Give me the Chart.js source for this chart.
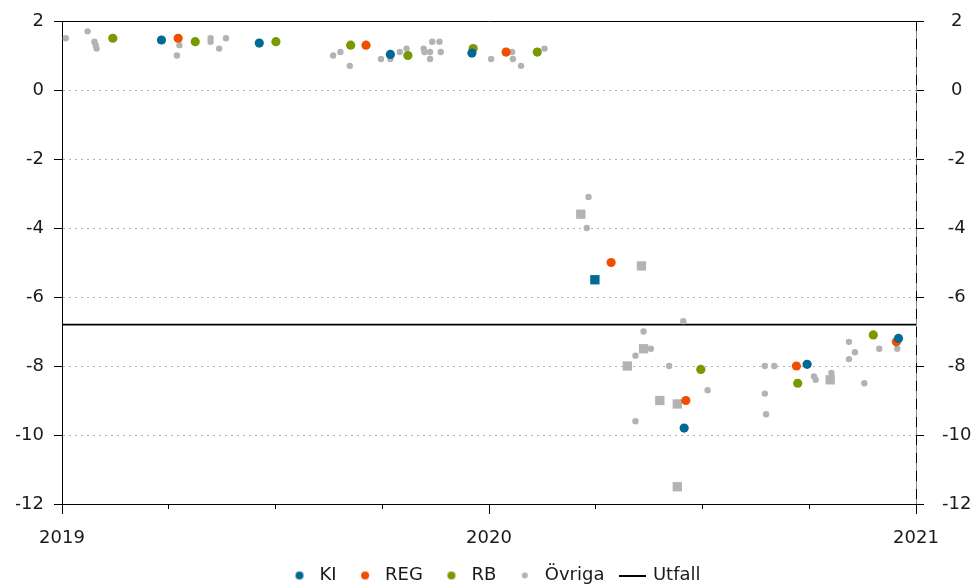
<!DOCTYPE html>
<html>
<head>
<meta charset="utf-8">
<script src="https://cdn.jsdelivr.net/npm/chart.js@4.4.1/dist/chart.umd.min.js"></script>
<style>
  html, body { margin: 0; padding: 0; background: #fff; overflow: hidden; }
</style>
</head>
<body>
<canvas id="chart" width="973" height="585"></canvas>
<script>
// forecast time (decimal year) and forecast value (percent)
const kiTime = [2019.233, 2019.462, 2019.769, 2019.960, 2020.457, 2020.745, 2020.959];
const kiValue = [1.45, 1.36, 1.03, 1.07, -9.8, -7.95, -7.2];
const kiSquareTime = [2020.248];
const kiSquareValue = [-5.5];

const regTime = [2019.272, 2019.712, 2020.040, 2020.286, 2020.461, 2020.720, 2020.954];
const regValue = [1.5, 1.3, 1.1, -5.0, -9.0, -8.0, -7.3];

const rbTime = [2019.119, 2019.312, 2019.501, 2019.676, 2019.810, 2019.963, 2020.113, 2020.496, 2020.723, 2020.900];
const rbValue = [1.5, 1.4, 1.4, 1.3, 1.0, 1.2, 1.1, -8.1, -8.5, -7.1];

const otherTime = [
  2019.009, 2019.060, 2019.076, 2019.079, 2019.081, 2019.275, 2019.269, 2019.348, 2019.348, 2019.384,
  2019.368, 2019.635, 2019.652, 2019.674, 2019.747, 2019.769, 2019.791, 2019.807, 2019.847, 2019.849,
  2019.862, 2019.862, 2019.867, 2019.884, 2019.887, 2020.005, 2020.054, 2020.056, 2020.075, 2020.130,
  2020.233, 2020.229, 2020.455, 2020.362, 2020.379, 2020.343, 2020.422, 2020.512, 2020.343, 2020.646,
  2020.668, 2020.646, 2020.649, 2020.761, 2020.765, 2020.802, 2020.843, 2020.857, 2020.843, 2020.879,
  2020.914, 2020.956
];
const otherValue = [
  1.5, 1.7, 1.4, 1.3, 1.2, 1.3, 1.0, 1.5, 1.4, 1.5,
  1.2, 1.0, 1.1, 0.7, 0.9, 0.9, 1.1, 1.2, 1.2, 1.1,
  1.1, 0.9, 1.4, 1.4, 1.1, 0.9, 1.1, 0.9, 0.7, 1.2,
  -3.1, -4.0, -6.7, -7.0, -7.5, -7.7, -8.0, -8.7, -9.6, -8.0,
  -8.0, -8.8, -9.4, -8.3, -8.4, -8.2, -7.3, -7.6, -7.8, -8.5,
  -7.5, -7.5
];
const otherSquareTime = [2020.215, 2020.357, 2020.362, 2020.324, 2020.400, 2020.441, 2020.441, 2020.799];
const otherSquareValue = [-3.6, -5.1, -7.5, -8.0, -9.0, -9.1, -11.5, -8.4];

const outcome = -6.8;
const years = [2019, 2020, 2021];
const yTicks = [-12, -10, -8, -6, -4, -2, 0, 2];

const colors = { KI: '#006a94', REG: '#f24e00', RB: '#789a00', other: '#b3b3b3' };
const font = { family: 'DejaVu Sans', size: 18 };
const lastYear = years[years.length - 1];
const topTick = yTicks[yTicks.length - 1];

function points(times, values) {
  return times.map((t, i) => ({ x: t, y: values[i] }));
}

function dotIcon(color, r) {
  const c = document.createElement('canvas');
  c.width = 2 * r + 2;
  c.height = 2 * r + 2;
  const g = c.getContext('2d');
  g.fillStyle = color;
  g.beginPath();
  g.arc(r + 1, r + 1, r, 0, Math.PI * 2);
  g.fill();
  return c;
}

function lineIcon() {
  const c = document.createElement('canvas');
  c.width = 27;
  c.height = 2;
  const g = c.getContext('2d');
  g.fillStyle = '#000';
  g.fillRect(0, 0, 27, 2);
  return c;
}

const legendIcons = {
  'KI': dotIcon(colors.KI, 4),
  'REG': dotIcon(colors.REG, 4),
  'RB': dotIcon(colors.RB, 4),
  'Övriga': dotIcon(colors.other, 3),
  'Utfall': lineIcon()
};

function dots(label, color, data, r) {
  return {
    label: label, data: data, pointStyle: 'circle',
    pointRadius: r, pointHoverRadius: r, pointBorderWidth: 0,
    pointBackgroundColor: color, pointBorderColor: color, backgroundColor: color
  };
}

function squares(label, color, data) {
  return {
    label: label, data: data, pointStyle: 'rect',
    pointRadius: 6.6, pointHoverRadius: 6.6, pointBorderWidth: 0,
    pointBackgroundColor: color, pointBorderColor: color, backgroundColor: color
  };
}

// longer tick marks at the year boundaries
const yearTicks = {
  id: 'yearTicks',
  afterDraw(chart) {
    const ctx = chart.ctx;
    const x = chart.scales.x;
    ctx.save();
    ctx.strokeStyle = '#000';
    ctx.lineWidth = 1;
    years.forEach(y => {
      const px = Math.round(x.getPixelForValue(y)) + 0.5;
      ctx.beginPath();
      ctx.moveTo(px, x.top);
      ctx.lineTo(px, x.top + 10);
      ctx.stroke();
    });
    ctx.restore();
  }
};

new Chart(document.getElementById('chart').getContext('2d'), {
  type: 'scatter',
  data: {
    datasets: [
      dots('KI', colors.KI, points(kiTime, kiValue), 4.6),
      squares('KI-sq', colors.KI, points(kiSquareTime, kiSquareValue)),
      dots('REG', colors.REG, points(regTime, regValue), 4.6),
      dots('RB', colors.RB, points(rbTime, rbValue), 4.6),
      dots('Övriga', colors.other, points(otherTime, otherValue), 3.2),
      squares('Övriga-sq', colors.other, points(otherSquareTime, otherSquareValue)),
      {
        label: 'Utfall',
        data: [{ x: years[0], y: outcome }, { x: lastYear, y: outcome }],
        showLine: true, borderColor: '#000', backgroundColor: '#000', borderWidth: 1.8,
        pointRadius: 0, pointHoverRadius: 0
      }
    ]
  },
  options: {
    responsive: false,
    animation: false,
    layout: { padding: { left: 16, right: 0, top: 21, bottom: 0 } },
    plugins: {
      tooltip: { enabled: false },
      legend: {
        position: 'bottom',
        maxHeight: 36,
        labels: {
          font: font,
          color: '#1a1a1a',
          usePointStyle: true,
          pointStyleWidth: 22,
          padding: 17.5,
          filter: item => !item.text.endsWith('-sq'),
          generateLabels(chart) {
            const items = Chart.defaults.plugins.legend.labels.generateLabels(chart);
            items.forEach(it => { it.pointStyle = legendIcons[it.text] || it.pointStyle; });
            return items;
          }
        }
      }
    },
    scales: {
      x: {
        type: 'linear',
        position: 'bottom',
        min: years[0],
        max: lastYear,
        afterBuildTicks(scale) {
          const t = [];
          for (let v = years[0]; v <= lastYear; v += 0.25) t.push({ value: v });
          scale.ticks = t;
        },
        afterFit(scale) { scale.height = 45; },
        ticks: {
          font: font, color: '#1a1a1a', padding: 19, maxRotation: 0, autoSkip: false,
          callback: v => (years.includes(v) ? String(v) : '')
        },
        grid: {
          drawOnChartArea: true,
          color: c => (c.tick && c.tick.value === lastYear ? '#000' : 'rgba(0,0,0,0)'),
          lineWidth: 1,
          tickColor: '#000',
          tickLength: 5,
          tickBorderDash: []
        },
        border: {
          color: '#000', width: 1,
          dash: c => (c.tick && c.tick.value === lastYear ? [10, 8] : [])
        }
      },
      y: {
        position: 'left',
        min: yTicks[0],
        max: topTick,
        afterBuildTicks(scale) { scale.ticks = yTicks.map(v => ({ value: v })); },
        afterFit(scale) { scale.width = 46; },
        ticks: { font: font, color: '#1a1a1a', padding: 10 },
        grid: {
          color: c => (c.tick && c.tick.value === topTick ? '#000' : '#b0b0b0'),
          lineWidth: 1,
          tickColor: '#000',
          tickLength: 8
        },
        border: {
          color: '#000', width: 1,
          dash: c => (c.tick && c.tick.value !== topTick ? [2, 4] : [])
        }
      },
      y2: {
        position: 'right',
        min: yTicks[0],
        max: topTick,
        afterBuildTicks(scale) { scale.ticks = yTicks.map(v => ({ value: v })); },
        afterFit(scale) {
          scale.width = 57;
          scale.paddingTop = 11;
          scale.paddingBottom = 11;
        },
        ticks: { font: font, color: '#1a1a1a', padding: 18, crossAlign: 'center' },
        // grid first, then the grey border, so the dashed 2021 line of x lies on top
        grid: { z: -3, drawOnChartArea: false, tickColor: '#000', tickLength: 8 },
        border: { z: -2, color: '#888', width: 1 }
      }
    }
  },
  plugins: [yearTicks]
});
</script>
</body>
</html>
